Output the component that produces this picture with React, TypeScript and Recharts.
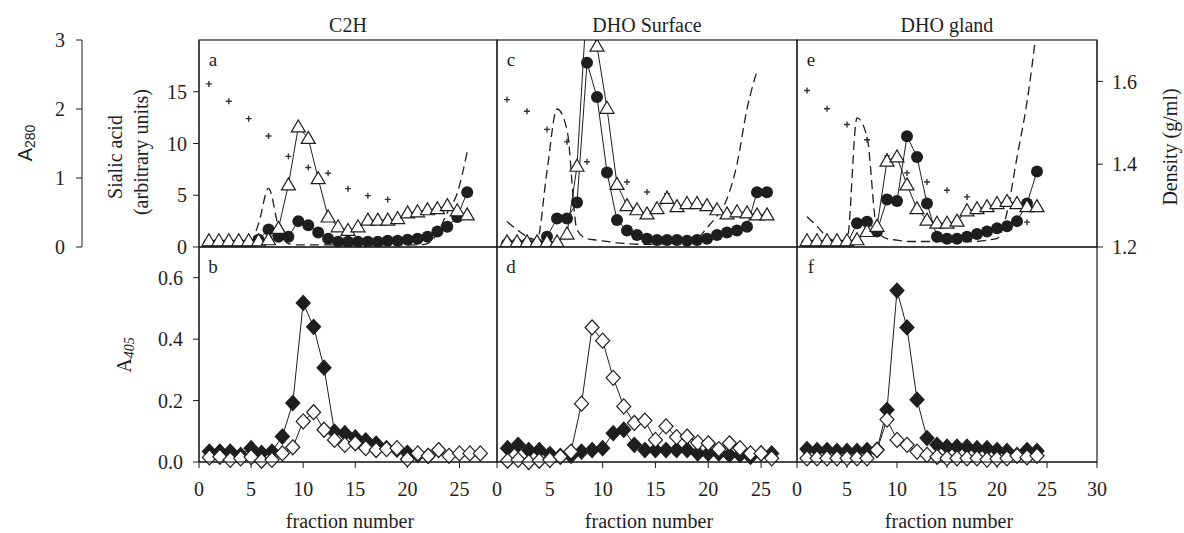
import React from "react";
import { ComposedChart, Line, Scatter, XAxis, YAxis } from "recharts";

const SERIF = "'Liberation Serif', 'Times New Roman', serif";
const SANS = "'Liberation Sans', Arial, sans-serif";
const INK = "#1e1e1e";

// ---- top row: sialic acid (triangles / circles), A280 (dashed), density (+) ----
const fracA = [1, 2, 3, 4, 5, 6, 7, 8, 9, 10, 11, 12, 13, 14, 15, 16, 17, 18, 19, 20, 21, 22, 23, 24, 25, 26, 27];
const triA = [0.6, 0.6, 0.6, 0.6, 0.6, 0.6, 0.7, 1.8, 6.0, 11.6, 10.5, 6.6, 2.9, 1.95, 1.6, 1.95, 2.6, 2.6, 2.6, 2.75, 3.3, 3.4, 3.6, 3.7, 4.0, 3.5, 3.1];
const circA = [0.3, 0.3, 0.3, 0.3, 0.3, 0.7, 1.7, 1.0, 1.0, 2.5, 2.1, 1.4, 0.8, 0.5, 0.5, 0.5, 0.5, 0.5, 0.6, 0.6, 0.7, 0.8, 1.0, 1.5, 1.95, 2.9, 5.3];
const a280A = [0.03, 0.03, 0.03, 0.03, 0.03, 0.34, 0.85, 0.3, 0.05, 0.03, 0.03, 0.03, 0.03, 0.03, 0.03, 0.03, 0.03, 0.03, 0.03, 0.03, 0.03, 0.03, 0.05, 0.2, 0.5, 0.78, 1.38];
const densFracA = [1, 3, 5, 7, 9, 11, 13, 15, 17, 19];
const densA = [1.594, 1.552, 1.51, 1.468, 1.419, 1.392, 1.378, 1.341, 1.324, 1.315];

const fracC = [1, 2, 3, 4, 5, 6, 7, 8, 9, 10, 11, 12, 13, 14, 15, 16, 17, 18, 19, 20, 21, 22, 23, 24, 25, 26, 27];
const triC = [0.5, 0.5, 0.5, 0.5, 0.5, 0.5, 1.25, 7.8, 24, 19.4, 13.4, 6.05, 4.0, 3.6, 3.2, 3.7, 4.7, 3.9, 4.2, 4.2, 4.0, 3.6, 3.2, 3.4, 3.3, 3.1, 3.1];
const circC = [0.3, 0.3, 0.3, 0.3, 1.0, 2.75, 2.75, 4.3, 17.8, 14.5, 7.2, 2.6, 1.6, 1.15, 0.8, 0.67, 0.67, 0.67, 0.6, 0.67, 0.8, 1.15, 1.4, 1.6, 1.95, 5.3, 5.3];
const a280C = [0.37, 0.25, 0.15, 0.1, 1.1, 2.0, 1.7, 0.25, 0.12, 0.1, 0.08, 0.06, 0.05, 0.04, 0.04, 0.04, 0.05, 0.06, 0.08, 0.12, 0.28, 0.45, 0.7, 1.2, 2.0, 2.55];
const densFracC = [1, 3, 5, 7, 9, 11, 13, 15, 17];
const densC = [1.556, 1.528, 1.484, 1.454, 1.406, 1.38, 1.357, 1.333, 1.329];

const fracE = [1, 2, 3, 4, 5, 6, 7, 8, 9, 10, 11, 12, 13, 14, 15, 16, 17, 18, 19, 20, 21, 22, 23, 24];
const triE = [0.6, 0.6, 0.6, 0.6, 0.6, 0.7, 1.5, 2.0, 8.3, 8.7, 6.0, 3.7, 2.6, 2.3, 2.3, 2.5, 3.5, 3.7, 3.9, 4.2, 4.4, 4.2, 3.9, 3.9];
const circE = [0.3, 0.3, 0.3, 0.3, 0.3, 2.3, 2.45, 1.5, 4.6, 4.45, 10.7, 8.7, 4.2, 1.0, 0.8, 0.8, 1.0, 1.25, 1.5, 1.8, 2.0, 2.5, 4.2, 7.3];
const a280E = [0.44, 0.3, 0.15, 0.08, 0.1, 1.87, 1.6, 0.25, 0.12, 0.1, 0.08, 0.08, 0.08, 0.08, 0.08, 0.08, 0.08, 0.08, 0.1, 0.12, 0.5, 1.3, 2.1, 3.2];
const densFracE = [1, 3, 5, 7, 9, 11, 13, 15, 17, 23];
const densE = [1.578, 1.534, 1.496, 1.459, 1.42, 1.379, 1.357, 1.337, 1.321, 1.26];

// ---- bottom row: A405, filled and open diamonds ----
const fracB = [1, 2, 3, 4, 5, 6, 7, 8, 9, 10, 11, 12, 13, 14, 15, 16, 17, 18, 19, 20, 21, 22, 23, 24, 25, 26, 27];
const fillB = [0.034, 0.034, 0.034, 0.023, 0.045, 0.03, 0.034, 0.083, 0.192, 0.518, 0.44, 0.307, 0.099, 0.094, 0.08, 0.07, 0.06, 0.045, 0.04, 0.03, 0.023, 0.02];
const openB = [0.015, 0.017, 0.007, 0.012, 0.016, 0.004, 0.007, 0.028, 0.048, 0.132, 0.162, 0.105, 0.072, 0.056, 0.061, 0.045, 0.039, 0.042, 0.045, 0.009, 0.028, 0.02, 0.039, 0.02, 0.028, 0.028, 0.028];

const fracD = [1, 2, 3, 4, 5, 6, 7, 8, 9, 10, 11, 12, 13, 14, 15, 16, 17, 18, 19, 20, 21, 22, 23, 24, 25, 26];
const fillD = [0.045, 0.056, 0.039, 0.039, 0.026, 0.02, 0.02, 0.034, 0.039, 0.045, 0.094, 0.105, 0.056, 0.039, 0.039, 0.039, 0.039, 0.039, 0.028, 0.028, 0.028, 0.023, 0.023, 0.017, 0.028, 0.028];
const openD = [0.004, 0.007, 0.0, 0.004, 0.007, 0.017, 0.034, 0.19, 0.438, 0.395, 0.274, 0.181, 0.127, 0.135, 0.072, 0.116, 0.081, 0.083, 0.063, 0.061, 0.042, 0.061, 0.045, 0.028, 0.028, 0.012];

const fracF = [1, 2, 3, 4, 5, 6, 7, 8, 9, 10, 11, 12, 13, 14, 15, 16, 17, 18, 19, 20, 21, 22, 23, 24];
const fillF = [0.042, 0.039, 0.039, 0.036, 0.036, 0.036, 0.039, 0.04, 0.17, 0.558, 0.438, 0.203, 0.078, 0.056, 0.05, 0.05, 0.05, 0.045, 0.045, 0.039, 0.036, 0.023, 0.039, 0.036];
const openF = [0.012, 0.012, 0.012, 0.012, 0.012, 0.012, 0.012, 0.039, 0.138, 0.072, 0.056, 0.034, 0.023, 0.017, 0.012, 0.012, 0.012, 0.012, 0.008, 0.01, 0.012, 0.02, 0.015, 0.02];

const titles = ["C2H", "DHO Surface", "DHO gland"];
const topLetters = ["a", "c", "e"];
const botLetters = ["b", "d", "f"];
const xTicks = [0, 5, 10, 15, 20, 25];
const xTicksLast = [0, 5, 10, 15, 20, 25, 30];

// layout
const TOP_Y = 40;
const TOP_H = 207;
const BOT_Y = 247;
const BOT_H = 215;
const XAX_H = 71;
const PAD = 20;
const AXW = 60;
const cols = [
  { x: 199, w: 298 },
  { x: 497, w: 300 },
  { x: 797, w: 300 },
];

const topRows = (fr: number[], tri: number[], circ: number[], a280: number[]) =>
  fr.map((f, i) => ({ f, tri: tri[i], circ: circ[i], a280: a280[i] }));
const densRows = (fr: number[], d: number[]) => fr.map((f, i) => ({ f, d: d[i] }));
const botRows = (fr: number[], fill: number[], open: number[]) =>
  fr.map((f, i) => ({ f, fill: fill[i], open: open[i] }));

const rowsA = topRows(fracA, triA, circA, a280A);

const tickStyle = { fontSize: 20, fill: INK, fontFamily: SERIF };

const triDot = (p: any) => {
  const { cx, cy, index } = p;
  if (cx == null || cy == null) return <g key={index} />;
  return (
    <path
      key={index}
      d={`M${cx},${cy - 7}L${cx + 7},${cy + 5}L${cx - 7},${cy + 5}Z`}
      fill="#fff"
      stroke={INK}
      strokeWidth={1.2}
    />
  );
};

const circDot = (p: any) => {
  const { cx, cy, index } = p;
  if (cx == null || cy == null) return <g key={index} />;
  return <circle key={index} cx={cx} cy={cy} r={6} fill={INK} />;
};

const diamond = (filled: boolean) => (p: any) => {
  const { cx, cy, index } = p;
  if (cx == null || cy == null) return <g key={index} />;
  return (
    <path
      key={index}
      d={`M${cx},${cy - 7.5}L${cx + 7},${cy}L${cx},${cy + 7.5}L${cx - 7},${cy}Z`}
      fill={filled ? INK : "#fff"}
      stroke={INK}
      strokeWidth={1.2}
    />
  );
};

const plus = (p: any) => {
  const { cx, cy } = p;
  return <path d={`M${cx - 3},${cy}H${cx + 3}M${cx},${cy - 3}V${cy + 3}`} stroke="#333" strokeWidth={1.4} />;
};

interface TopProps {
  rows: any[];
  dens: any[];
  col: number;
  showLeft?: boolean;
  showRight?: boolean;
}

const TopPanel = ({ rows, dens, col, showLeft, showRight }: TopProps) => {
  const { x, w } = cols[col];
  const lw = showLeft ? AXW : 0;
  const rw = showRight ? AXW : 0;
  return (
    <div style={{ position: "absolute", left: x - lw - PAD, top: TOP_Y - PAD }}>
      <ComposedChart
        width={w + lw + rw + 2 * PAD}
        height={TOP_H + 2 * PAD}
        data={rows}
        margin={{ top: PAD, right: PAD, bottom: PAD, left: PAD }}
      >
        <XAxis type="number" dataKey="f" domain={[0, 30]} hide allowDataOverflow />
        <YAxis yAxisId="a" type="number" domain={[0, 3]} allowDataOverflow hide width={0} />
        <YAxis
          yAxisId="s"
          type="number"
          domain={[0, 20]}
          ticks={[0, 5, 10, 15]}
          allowDataOverflow
          hide={!showLeft}
          width={showLeft ? AXW : 0}
          tickSize={6}
          tickMargin={6}
          tick={tickStyle}
          axisLine={{ stroke: INK }}
          tickLine={{ stroke: INK }}
        />
        <YAxis
          yAxisId="d"
          type="number"
          orientation="right"
          domain={[1.2, 1.7]}
          ticks={[1.2, 1.4, 1.6]}
          tickFormatter={(v: number) => v.toFixed(1)}
          hide={!showRight}
          width={showRight ? AXW : 0}
          tickSize={6}
          tickMargin={9}
          tick={tickStyle}
          axisLine={{ stroke: INK }}
          tickLine={{ stroke: INK }}
        />
        <Line
          yAxisId="a"
          dataKey="a280"
          type="monotone"
          stroke={INK}
          strokeWidth={1.3}
          strokeDasharray="9 5"
          dot={false}
          isAnimationActive={false}
        />
        <Scatter yAxisId="d" data={dens} dataKey="d" shape={plus} isAnimationActive={false} />
        <Line
          yAxisId="s"
          dataKey="circ"
          type="linear"
          stroke={INK}
          strokeWidth={1}
          dot={circDot}
          isAnimationActive={false}
        />
        <Line
          yAxisId="s"
          dataKey="tri"
          type="linear"
          stroke={INK}
          strokeWidth={1}
          dot={triDot}
          isAnimationActive={false}
        />
      </ComposedChart>
    </div>
  );
};

interface BotProps {
  rows: any[];
  col: number;
  xMax: number;
  ticks: number[];
  showLeft?: boolean;
}

const BottomPanel = ({ rows, col, xMax, ticks, showLeft }: BotProps) => {
  const { x, w } = cols[col];
  const lw = showLeft ? AXW : 0;
  return (
    <div style={{ position: "absolute", left: x - lw - PAD, top: BOT_Y - PAD }}>
      <ComposedChart
        width={w + lw + 2 * PAD}
        height={BOT_H + XAX_H + PAD}
        data={rows}
        margin={{ top: PAD, right: PAD, bottom: 0, left: PAD }}
      >
        <XAxis
          type="number"
          dataKey="f"
          domain={[0, xMax]}
          ticks={ticks}
          allowDataOverflow
          height={XAX_H}
          tickSize={6}
          tickMargin={14}
          tick={tickStyle}
          axisLine={{ stroke: INK }}
          tickLine={{ stroke: INK }}
        />
        <YAxis
          type="number"
          domain={[0, 0.7]}
          ticks={[0, 0.2, 0.4, 0.6]}
          tickFormatter={(v: number) => v.toFixed(1)}
          hide={!showLeft}
          width={showLeft ? AXW : 0}
          tickSize={6}
          tickMargin={10}
          tick={tickStyle}
          axisLine={{ stroke: INK }}
          tickLine={{ stroke: INK }}
        />
        <Line dataKey="fill" type="linear" stroke={INK} strokeWidth={1} dot={diamond(true)} isAnimationActive={false} />
        <Line dataKey="open" type="linear" stroke={INK} strokeWidth={1} dot={diamond(false)} isAnimationActive={false} />
      </ComposedChart>
    </div>
  );
};

// stand-alone A280 scale on the far left (shares the top-row height)
const A280Axis = () => (
  <div style={{ position: "absolute", left: 0, top: TOP_Y - PAD }}>
    <ComposedChart width={110} height={TOP_H + 2 * PAD} data={rowsA} margin={{ top: PAD, right: 0, bottom: PAD, left: 0 }}>
      <XAxis type="number" dataKey="f" domain={[0, 30]} hide allowDataOverflow />
      <YAxis
        type="number"
        domain={[0, 3]}
        ticks={[0, 1, 2, 3]}
        allowDataOverflow
        width={82}
        tickSize={6}
        tickMargin={11}
        tick={tickStyle}
        axisLine={{ stroke: INK }}
        tickLine={{ stroke: INK }}
      />
    </ComposedChart>
  </div>
);

const Overlay = () => (
  <svg width={1184} height={533} style={{ position: "absolute", left: 0, top: 0, pointerEvents: "none" }}>
    {cols.map((c, i) => (
      <g key={i}>
        <rect x={c.x} y={TOP_Y} width={c.w} height={TOP_H} fill="none" stroke={INK} strokeWidth={1.2} />
        <rect x={c.x} y={BOT_Y} width={c.w} height={BOT_H} fill="none" stroke={INK} strokeWidth={1.2} />
        <text x={c.x + c.w / 2} y={25} textAnchor="middle" dominantBaseline="central" fontFamily={SERIF} fontSize={20} fill={INK}>
          {titles[i]}
        </text>
        <text x={c.x + 14} y={59} textAnchor="middle" dominantBaseline="central" fontFamily={SERIF} fontSize={19} fill={INK}>
          {topLetters[i]}
        </text>
        <text x={c.x + 14} y={266} textAnchor="middle" dominantBaseline="central" fontFamily={SERIF} fontSize={19} fill={INK}>
          {botLetters[i]}
        </text>
        <text x={c.x + c.w / 2 + 2} y={521} textAnchor="middle" dominantBaseline="central" fontFamily={SERIF} fontSize={20} fill={INK}>
          fraction number
        </text>
      </g>
    ))}
    <text transform="rotate(-90 25 143)" x={25} y={143} textAnchor="middle" dominantBaseline="central" fontFamily={SANS} fontSize={20} fill={INK}>
      A<tspan fontSize={14} dy={5}>280</tspan>
    </text>
    <text transform="rotate(-90 115 157)" x={115} y={157} textAnchor="middle" dominantBaseline="central" fontFamily={SERIF} fontSize={20} fill={INK}>
      Sialic acid
    </text>
    <text transform="rotate(-90 141 152)" x={141} y={152} textAnchor="middle" dominantBaseline="central" fontFamily={SERIF} fontSize={20} fill={INK}>
      (arbitrary units)
    </text>
    <text transform="rotate(-90 124 355)" x={124} y={355} textAnchor="middle" dominantBaseline="central" fontFamily={SERIF} fontSize={20} fill={INK}>
      A<tspan fontSize={14} fontStyle="italic" dy={5}>405</tspan>
    </text>
    <text transform="rotate(-90 1170 147)" x={1170} y={147} textAnchor="middle" dominantBaseline="central" fontFamily={SERIF} fontSize={20} fill={INK}>
      Density (g/ml)
    </text>
  </svg>
);

export default function App() {
  return (
    <div style={{ position: "absolute", left: 0, top: 0, width: 1184, height: 533, background: "#fff", overflow: "hidden" }}>
      <A280Axis />
      <TopPanel rows={rowsA} dens={densRows(densFracA, densA)} col={0} showLeft />
      <TopPanel rows={topRows(fracC, triC, circC, a280C)} dens={densRows(densFracC, densC)} col={1} />
      <TopPanel rows={topRows(fracE, triE, circE, a280E)} dens={densRows(densFracE, densE)} col={2} showRight />
      <BottomPanel rows={botRows(fracB, fillB, openB)} col={0} xMax={28.6} ticks={xTicks} showLeft />
      <BottomPanel rows={botRows(fracD, fillD, openD)} col={1} xMax={28.4} ticks={xTicks} />
      <BottomPanel rows={botRows(fracF, fillF, openF)} col={2} xMax={30} ticks={xTicksLast} />
      <Overlay />
    </div>
  );
}
